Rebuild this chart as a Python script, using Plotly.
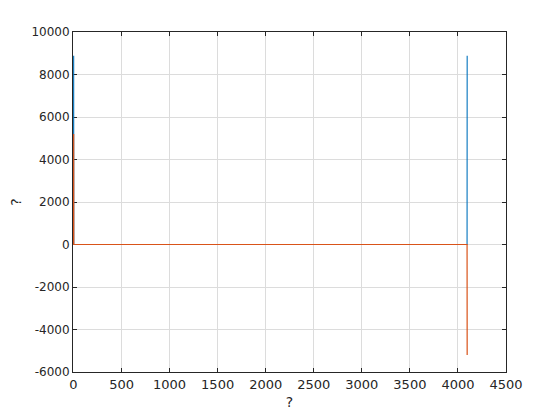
import plotly.graph_objects as go

# Breakpoints of the two series (values are zero between them)
x_idx = [1, 2, 3, 4095, 4096]
real_part = [0, 8880, 0, 0, 8880]
imag_part = [0, 5200, 0, 0, -5200]

x_ticks = [0, 500, 1000, 1500, 2000, 2500, 3000, 3500, 4000, 4500]
y_ticks = [-6000, -4000, -2000, 0, 2000, 4000, 6000, 8000, 10000]

fig = go.Figure()
fig.add_trace(go.Scatter(x=x_idx, y=real_part, mode="lines",
                         line=dict(color="#0072BD", width=1.1), showlegend=False))
fig.add_trace(go.Scatter(x=x_idx, y=imag_part, mode="lines",
                         line=dict(color="#D95319", width=1.2), showlegend=False))

axis_common = dict(
    showline=True, linecolor="#262626", linewidth=1, mirror="allticks",
    ticks="inside", ticklen=4, tickcolor="#262626",
    showgrid=True, gridcolor="#dcdcdc", gridwidth=1, zeroline=False,
    automargin=False, layer="below traces",
)

fig.update_layout(
    width=552, height=412,
    margin=dict(l=65, r=54, t=24, b=48),
    paper_bgcolor="white", plot_bgcolor="white",
    font=dict(family="DejaVu Sans", color="#262626"),
    xaxis=dict(range=[-5, 4500], tickvals=x_ticks, ticktext=[str(v) for v in x_ticks],
               tickfont=dict(size=13), title=dict(text="?", font=dict(size=14), standoff=6),
               **axis_common),
    yaxis=dict(range=[-6000, 10000], tickvals=y_ticks, ticktext=[str(v) for v in y_ticks],
               tickfont=dict(size=12), title=dict(text="?", font=dict(size=14), standoff=10),
               **axis_common),
)

fig.write_html("out.html")
